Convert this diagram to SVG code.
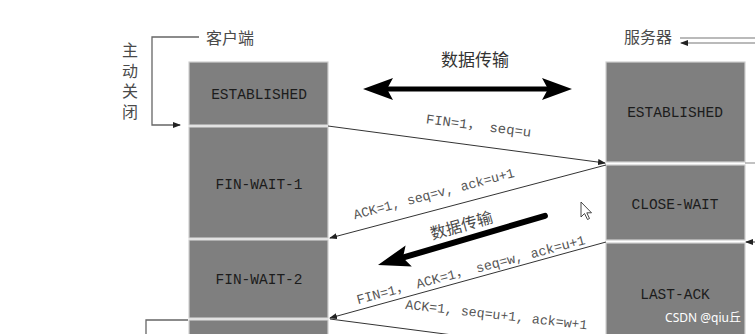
<svg xmlns="http://www.w3.org/2000/svg" width="755" height="334" viewBox="0 0 755 334">
<defs>
<style>
.box{fill:#7f7f7f;stroke:#cfcfcf;stroke-width:1.2}
.st{font-family:"Liberation Mono",monospace;font-size:14.5px;fill:#1c1c1c;text-anchor:middle}
.lbl{font-family:"Liberation Mono","Noto Sans CJK SC",monospace;font-size:13.5px;fill:#555;text-anchor:middle}
.cn{font-family:"Noto Sans CJK SC",sans-serif;fill:#4a4a4a;text-anchor:middle}
.ln{stroke:#333;stroke-width:1;fill:none}
.br{stroke:#666;stroke-width:1.3;fill:none}
</style>
<marker id="ah" markerWidth="8" markerHeight="6" refX="7" refY="3" orient="auto" markerUnits="userSpaceOnUse">
<path d="M0,0 L8,3 L0,6 Z" fill="#222"/>
</marker>
</defs>
<rect width="755" height="334" fill="#fff"/>

<g id="client-label">
<text class="cn" x="230" y="44" font-size="16">客户端</text>
</g>
<g id="server-label">
<text class="cn" x="648" y="43" font-size="16">服务器</text>
</g>
<g id="active-close">
<text x="130" y="42" font-family="'Noto Sans CJK SC',sans-serif" font-size="16" fill="#4a4a4a" writing-mode="tb" letter-spacing="4.5">主动关闭</text>
</g>

<g id="c-established"><rect class="box" x="189" y="62" width="139" height="63"/><text class="st" x="259" y="99">ESTABLISHED</text></g>
<g id="c-finwait1"><rect class="box" x="189" y="127" width="139" height="111"/><text class="st" x="259" y="189">FIN-WAIT-1</text></g>
<g id="c-finwait2"><rect class="box" x="189" y="240" width="139" height="78"/><text class="st" x="259" y="284">FIN-WAIT-2</text></g>
<g id="c-next"><rect class="box" x="189" y="320" width="139" height="30"/></g>

<g id="s-established"><rect class="box" x="606" y="62" width="139" height="100"/><text class="st" x="675" y="117">ESTABLISHED</text></g>
<g id="s-closewait"><rect class="box" x="606" y="165" width="139" height="75"/><text class="st" x="675" y="209">CLOSE-WAIT</text></g>
<g id="s-lastack"><rect class="box" x="606" y="243" width="139" height="100"/><text class="st" x="675" y="299">LAST-ACK</text></g>

<g id="connectors">
<polyline class="br" points="199,37 152,37 152,125 180,125" marker-end="url(#ah)"/>
<polyline class="br" points="188,320 146,320 146,334"/>
<line x1="680" y1="38" x2="755" y2="38" stroke="#777" stroke-width="1.2"/>
<line x1="755" y1="43" x2="681" y2="43" stroke="#777" stroke-width="1.2" marker-end="url(#ah)"/>
<line x1="745" y1="163" x2="755" y2="163" stroke="#999" stroke-width="1.2"/>
<line x1="755" y1="242" x2="746" y2="242" class="ln" marker-end="url(#ah)"/>

<line x1="385" y1="89" x2="550" y2="89" stroke="#000" stroke-width="5"/>
<polygon points="363,89 393,78 387,89 393,100" fill="#000"/>
<polygon points="572,89 542,78 548,89 542,100" fill="#000"/>

<line class="ln" x1="328" y1="126" x2="605" y2="163" marker-end="url(#ah)"/>
<line class="ln" x1="606" y1="165" x2="330" y2="238" marker-end="url(#ah)"/>
<line class="ln" x1="606" y1="242" x2="330" y2="318" marker-end="url(#ah)"/>
<line class="ln" x1="330" y1="319" x2="606" y2="355"/>

<g transform="translate(378,265) rotate(-16.4)">
<line x1="24" y1="0" x2="174" y2="0" stroke="#000" stroke-width="6" stroke-linecap="round"/>
<polygon points="0,0 32,-11 26,0 32,11" fill="#000"/>
</g>
</g>

<g id="labels">
<text class="cn" x="475" y="66" font-size="17" style="fill:#333">数据传输</text>
<text class="lbl" transform="translate(478,130) rotate(7.4)" textLength="106" lengthAdjust="spacingAndGlyphs">FIN=1， seq=u</text>
<text class="lbl" transform="translate(435,198) rotate(-14.8)" textLength="166" lengthAdjust="spacingAndGlyphs">ACK=1, seq=v, ack=u+1</text>
<text class="cn" font-size="16" transform="translate(463,231) rotate(-16)">数据传输</text>
<text class="lbl" transform="translate(472,274) rotate(-14.8)" textLength="236" lengthAdjust="spacingAndGlyphs">FIN=1， ACK=1， seq=w, ack=u+1</text>
<text class="lbl" transform="translate(496,319) rotate(6.5)" textLength="183" lengthAdjust="spacingAndGlyphs">ACK=1, seq=u+1, ack=w+1</text>
</g>

<polygon points="581,202 581,217 584.5,213.5 587.5,219.5 589.5,218.5 586.8,212.8 591.5,212.8" fill="#fff" stroke="#333" stroke-width="0.9"/>

<text x="703" y="322" font-family="'Noto Sans','Noto Sans CJK SC',sans-serif" font-size="12" fill="#fff" text-anchor="middle">CSDN @qiu丘</text>
</svg>
